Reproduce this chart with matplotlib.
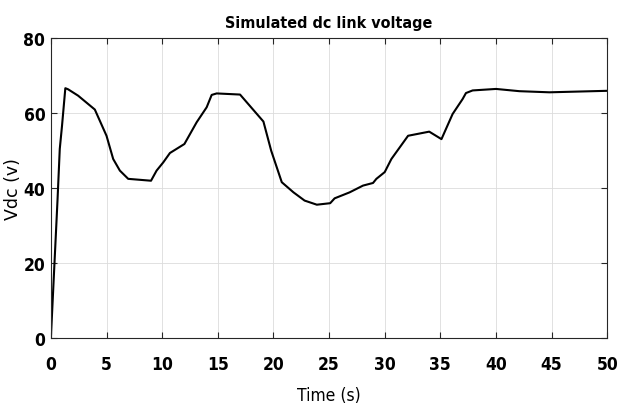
import matplotlib

matplotlib.use("Agg")
import matplotlib.pyplot as plt

# values
time_s = [0.0, 0.6, 0.8, 1.0, 1.3, 1.55, 2.45, 3.95, 5.0, 5.6, 6.2, 6.95, 9.0,
          9.5, 10.1, 10.7, 12.0, 13.1, 14.0, 14.45, 14.9, 17.0, 19.1, 19.8,
          20.75, 21.8, 22.8, 23.9, 25.1, 25.5, 26.85, 28.05, 28.95, 29.25,
          30.0, 30.6, 32.1, 34.0, 35.1, 36.1, 37.0, 37.3, 37.9, 40.0, 42.1,
          44.8, 50.0]
vdc = [0.0, 37.0, 50.5, 56.6, 66.7, 66.4, 64.7, 61.0, 54.0, 47.8, 44.7, 42.5,
       42.0, 44.7, 46.9, 49.4, 51.8, 57.6, 61.6, 64.9, 65.3, 65.0, 57.8, 50.0,
       41.6, 38.9, 36.7, 35.6, 36.0, 37.3, 38.9, 40.7, 41.4, 42.5, 44.3, 47.8,
       54.0, 55.1, 53.1, 59.8, 63.8, 65.4, 66.1, 66.5, 65.9, 65.6, 66.0]

x_ticks = list(range(0, 51, 5))
y_ticks = [0, 20, 40, 60, 80]

AXC = "#262626"
TXT = dict(family="DejaVu Sans", stretch="condensed")

fig = plt.figure(figsize=(6.28, 4.10), dpi=100)
ax = fig.add_axes([0.081, 0.173, 0.886, 0.731])

ax.plot(time_s, vdc, color="black", lw=1.5)

ax.set_xlim(0, 50); ax.set_ylim(0, 80)
ax.set_xticks(x_ticks); ax.set_yticks(y_ticks)
ax.grid(True, color="#dcdcdc", lw=0.6)
ax.set_axisbelow(True)
ax.tick_params(direction="in", top=True, right=True, length=4, width=0.8,
               color=AXC, labelsize=12.5)
ax.tick_params(axis="x", pad=12)
ax.tick_params(axis="y", pad=4)
for lab in ax.get_xticklabels() + ax.get_yticklabels():
    lab.set_family("DejaVu Sans"); lab.set_stretch("condensed")
    lab.set_fontweight("bold")
for sp in ax.spines.values():
    sp.set_color(AXC); sp.set_linewidth(0.8)

ax.set_title("Simulated dc link voltage", fontweight="bold", fontsize=11.5,
             pad=8, **TXT)
ax.set_xlabel("Time (s)", fontsize=12.5, **TXT)
ax.set_ylabel("Vdc (v)", fontsize=12.5, family="DejaVu Sans")
ax.xaxis.set_label_coords(0.5, -0.160)
ax.yaxis.set_label_coords(-0.052, 0.5)

fig.savefig("out.png", dpi=100)
